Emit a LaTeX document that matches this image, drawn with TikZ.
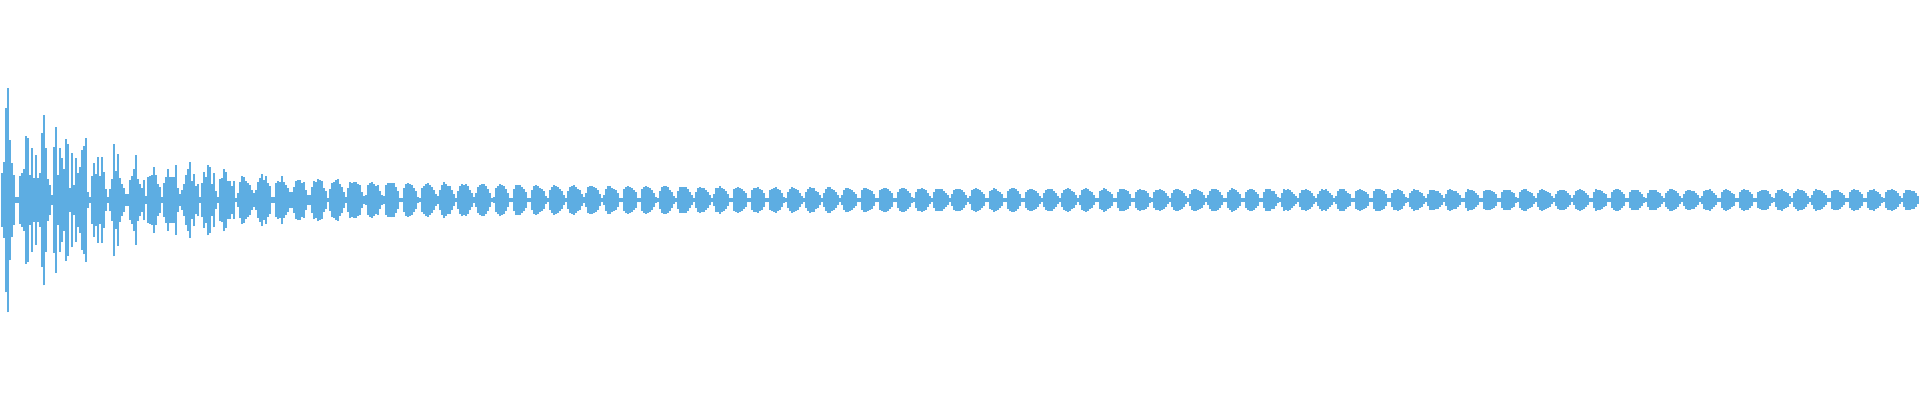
\documentclass[tikz,border=0pt]{standalone}
\definecolor{wavecol}{RGB}{93,173,226}
\begin{document}
\begin{tikzpicture}[x=1pt,y=1pt]
\tikzset{wave/.style={draw=wavecol,line width=2.2pt}}
\useasboundingbox (0,0) rectangle (1920,400);
\pgfmathsetseed{7}
\foreach \x in {2,4,...,1918}{%
	\pgfmathsetmacro\f{min(mod(\x,18.3)/18.3/0.85,1)}
	\pgfmathsetmacro\s{abs(sin(180*(\f+0.001)^0.7))^0.6}
	\pgfmathsetmacro\a{2+(9+22*exp(-\x/350))*\s*(0.85+0.15*rnd)+100*exp(-\x/110)*rnd^3}
	\draw[wave] (\x,200-\a) -- (\x,200+\a);
}%
\end{tikzpicture}
\end{document}
